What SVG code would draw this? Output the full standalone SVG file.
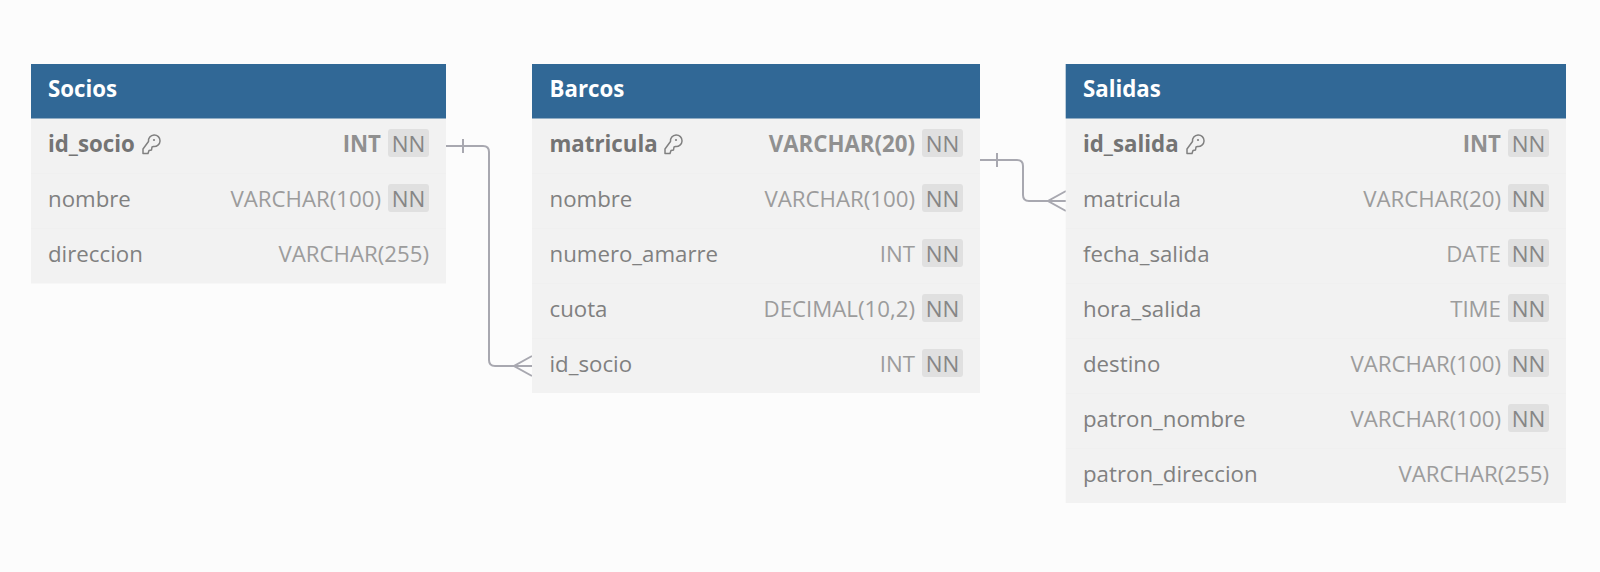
<svg xmlns="http://www.w3.org/2000/svg" width="1600" height="572" viewBox="0 0 1600 572">
<style>
text{font-family:"Open Sans","Noto Sans",sans-serif;font-size:22.25px}
.h{fill:#316896}.b{fill:#f2f2f2}.t{fill:#fff;font-weight:700}
.n{fill:#808080}.pk{fill:#747474;font-weight:700}
.ty{fill:#9c9c9c;text-anchor:end}.tyb{fill:#909090;font-weight:700;text-anchor:end}
.nnb{fill:#e0e0e0}.nn{fill:#868686;text-anchor:middle}
.c{fill:none;stroke:#a8a8b0;stroke-width:2}
.k{fill:none;stroke:#808080;stroke-width:1.5;stroke-linejoin:round}
.sep{stroke:#f0f0f0;stroke-width:1}
</style>
<defs>
<g id="key"><path class="k" d="M1 13.500 L1 18 L6 18 L7 15 L9.500 14.500 L10 11.500 L11.500 11 A5.800 5.800 0 1 0 6.500 6 Z"/><circle cx="12" cy="4.500" r="1.100" fill="#808080"/></g>
<g id="nnt"><rect x="-20.500" y="-14" width="41" height="28" rx="3" class="nnb"/><text y="8.500" class="nn">NN</text></g>
</defs>
<rect width="1600" height="572" fill="#fcfcfc"/>
<g id="connectors">
<path class="c" d="M446 146H483Q489 146 489 152V360Q489 366 495 366H532M463 139V153M532 356L514 366L532 376"/>
<path class="c" d="M980 160H1017Q1023 160 1023 166V195Q1023 201 1029 201H1066M997 153V167M1066 191L1048 201L1066 211"/>
</g>
<g id="socios">
<rect x="31" y="64" width="415" height="219.500" class="b"/><rect x="31" y="64" width="415" height="54.500" class="h"/>
<path class="sep" d="M31 173.500H446M31 228.500H446"/>
<text x="48" y="97" class="t">Socios</text>
<text x="48" y="152" class="pk">id_socio</text><use href="#key" x="142" y="135.500"/>
<text x="381" y="152" class="tyb">INT</text><use href="#nnt" x="408.500" y="143"/>
<text x="48" y="206.500" class="n">nombre</text><text x="381" y="206.500" class="ty">VARCHAR(100)</text><use href="#nnt" x="408.500" y="198"/>
<text x="48" y="261.500" class="n">direccion</text><text x="429" y="261.500" class="ty">VARCHAR(255)</text>
</g>
<g id="barcos">
<rect x="532" y="64" width="448" height="329" class="b"/><rect x="532" y="64" width="448" height="54.500" class="h"/>
<path class="sep" d="M532 173.500H980M532 228.500H980M532 283.500H980M532 338.500H980"/>
<text x="549.500" y="97" class="t">Barcos</text>
<text x="549.500" y="152" class="pk">matricula</text><use href="#key" x="664" y="135.500"/>
<text x="915" y="152" class="tyb">VARCHAR(20)</text><use href="#nnt" x="942.500" y="143"/>
<text x="549.500" y="206.500" class="n">nombre</text><text x="915" y="206.500" class="ty">VARCHAR(100)</text><use href="#nnt" x="942.500" y="198"/>
<text x="549.500" y="261.500" class="n">numero_amarre</text><text x="915" y="261.500" class="ty">INT</text><use href="#nnt" x="942.500" y="253"/>
<text x="549.500" y="316.500" class="n">cuota</text><text x="915" y="316.500" class="ty">DECIMAL(10,2)</text><use href="#nnt" x="942.500" y="308"/>
<text x="549.500" y="371.500" class="n">id_socio</text><text x="915" y="371.500" class="ty">INT</text><use href="#nnt" x="942.500" y="363"/>
</g>
<g id="salidas">
<rect x="1065.700" y="64" width="500.300" height="439" class="b"/><rect x="1065.700" y="64" width="500.300" height="54.500" class="h"/>
<path class="sep" d="M1066 173.500H1566M1066 228.500H1566M1066 283.500H1566M1066 338.500H1566M1066 393.500H1566M1066 448.500H1566"/>
<text x="1083" y="97" class="t">Salidas</text>
<text x="1083" y="152" class="pk">id_salida</text><use href="#key" x="1186" y="135.500"/>
<text x="1501" y="152" class="tyb">INT</text><use href="#nnt" x="1528.500" y="143"/>
<text x="1083" y="206.500" class="n">matricula</text><text x="1501" y="206.500" class="ty">VARCHAR(20)</text><use href="#nnt" x="1528.500" y="198"/>
<text x="1083" y="261.500" class="n">fecha_salida</text><text x="1501" y="261.500" class="ty">DATE</text><use href="#nnt" x="1528.500" y="253"/>
<text x="1083" y="316.500" class="n">hora_salida</text><text x="1501" y="316.500" class="ty">TIME</text><use href="#nnt" x="1528.500" y="308"/>
<text x="1083" y="371.500" class="n">destino</text><text x="1501" y="371.500" class="ty">VARCHAR(100)</text><use href="#nnt" x="1528.500" y="363"/>
<text x="1083" y="426.500" class="n">patron_nombre</text><text x="1501" y="426.500" class="ty">VARCHAR(100)</text><use href="#nnt" x="1528.500" y="418"/>
<text x="1083" y="481.500" class="n">patron_direccion</text><text x="1549" y="481.500" class="ty">VARCHAR(255)</text>
</g>
</svg>
